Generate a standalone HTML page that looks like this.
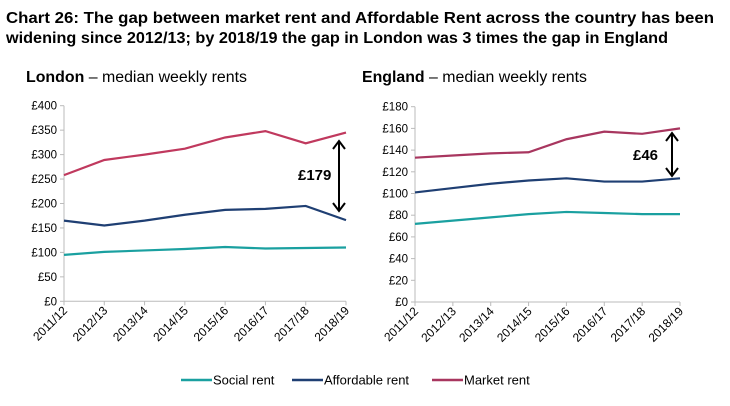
<!DOCTYPE html>
<html><head><meta charset="utf-8"><style>
body{margin:0;background:#fff;}
svg text{font-family:"Liberation Sans",Arial,sans-serif;}
</style></head><body>
<svg width="730" height="401" xmlns="http://www.w3.org/2000/svg" id="root">
<text x="6" y="23" font-size="15.5" font-weight="bold" fill="#000" textLength="708" lengthAdjust="spacingAndGlyphs">Chart 26: The gap between market rent and Affordable Rent across the country has been</text>
<text x="6" y="43" font-size="15.5" font-weight="bold" fill="#000" textLength="662" lengthAdjust="spacingAndGlyphs">widening since 2012/13; by 2018/19 the gap in London was 3 times the gap in England</text>
<text x="26" y="82" font-size="15.5" textLength="221" lengthAdjust="spacingAndGlyphs"><tspan font-weight="bold">London</tspan> – median weekly rents</text>
<text x="362" y="82" font-size="15.5" textLength="225" lengthAdjust="spacingAndGlyphs"><tspan font-weight="bold">England</tspan> – median weekly rents</text>
<g id="g1"></g><g id="g2"></g>
<g>
<text x="298" y="180" font-size="15" font-weight="bold">£179</text>
<line x1="339" y1="142" x2="339" y2="210" stroke="#000" stroke-width="2"/>
<path d="M333,149 L339,141 L345,149 M333,203 L339,211 L345,203" fill="none" stroke="#000" stroke-width="2"/>
</g>
<g>
<text x="633" y="160" font-size="15" font-weight="bold">£46</text>
<line x1="672" y1="134" x2="672" y2="175" stroke="#000" stroke-width="2"/>
<path d="M666,141 L672,133 L678,141 M666,168 L672,176 L678,168" fill="none" stroke="#000" stroke-width="2"/>
</g>
<g>
<line x1="181" y1="380" x2="212" y2="380" stroke="#1AA0A0" stroke-width="2.5"/>
<text x="213" y="384.5" font-size="13">Social rent</text>
<line x1="292" y1="380" x2="323" y2="380" stroke="#1F3F73" stroke-width="2.5"/>
<text x="324" y="384.5" font-size="13">Affordable rent</text>
<line x1="432" y1="380" x2="463" y2="380" stroke="#A8365F" stroke-width="2.5"/>
<text x="464" y="384.5" font-size="13">Market rent</text>
</g>
</svg>
<script>
const categories=["2011/12","2012/13","2013/14","2014/15","2015/16","2016/17","2017/18","2018/19"];
const londonMarket=[258,289,300,312,335,348,323,345];
const londonAffordable=[165,155,165,177,187,189,195,166];
const londonSocial=[95,101,104,107,111,108,109,110];
const londonTicks=[0,50,100,150,200,250,300,350,400];
const englandMarket=[133,135,137,138,150,157,155,160];
const englandAffordable=[101,105,109,112,114,111,111,114];
const englandSocial=[72,75,78,81,83,82,81,81];
const englandTicks=[0,20,40,60,80,100,120,140,160,180];
const NS="http://www.w3.org/2000/svg";
function mk(p,t,a){const e=document.createElementNS(NS,t);for(const k in a)e.setAttribute(k,a[k]);p.appendChild(e);return e;}
function panel(g,x0,x1,yTop,yBot,ticks,series,prefix){
  const max=ticks[ticks.length-1];
  const y=v=>yBot-(v/max)*(yBot-yTop);
  const x=i=>x0+i*(x1-x0)/(categories.length-1);
  const ax=mk(g,'line',{x1:x0,y1:yTop,x2:x0,y2:yBot,stroke:'#bbb','stroke-width':1});
  
  
  const bx=mk(g,'line',{x1:x0,y1:yBot,x2:x1,y2:yBot,stroke:'#bbb','stroke-width':1});
  
  
  ticks.forEach(t=>{
    mk(g,'line',{x1:x0-4,y1:y(t),x2:x0,y2:y(t),stroke:'#bbb'});
    const tx=mk(g,'text',{x:x0-7,y:y(t)+4,'font-size':11.5,'text-anchor':'end'});
    tx.textContent='£'+t;
    
    
  });
  categories.forEach((c,i)=>{
    mk(g,'line',{x1:x(i),y1:yBot,x2:x(i),y2:yBot+4,stroke:'#bbb'});
    const tx=mk(g,'text',{x:0,y:0,'font-size':12,'text-anchor':'end',transform:`translate(${x(i)+4},${yBot+10}) rotate(-45)`});
    tx.textContent=c;
    
    
  });
  series.forEach(s=>{
    const pl=mk(g,'polyline',{points:s.v.map((v,i)=>x(i)+','+y(v)).join(' '),fill:'none',stroke:s.c,'stroke-width':2.2});
    
    
  });
}
panel(document.getElementById('g1'),64,346,105.7,301.3,londonTicks,[
 {v:londonSocial,c:'#1AA0A0',n:'social'},{v:londonAffordable,c:'#1F3F73',n:'affordable'},{v:londonMarket,c:'#C0395E',n:'market'}],'london');
panel(document.getElementById('g2'),415,680,106.7,302,englandTicks,[
 {v:englandSocial,c:'#1AA0A0',n:'social'},{v:englandAffordable,c:'#1F3F73',n:'affordable'},{v:englandMarket,c:'#A8365F',n:'market'}],'england');
</script>
</body></html>
